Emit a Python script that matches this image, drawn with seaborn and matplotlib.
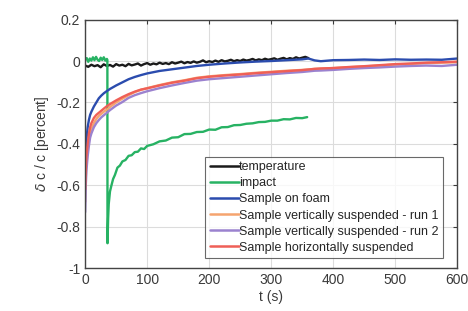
import numpy as np
import pandas as pd
import seaborn as sns
import matplotlib
matplotlib.use("Agg")
import matplotlib.pyplot as plt

# temperature reference (every 5 s)
temp_t = np.arange(0, 361, 5)
temp_v = [-0.022, -0.028, -0.018, -0.025, -0.020, -0.030, -0.016, -0.024, -0.019, -0.027,
          -0.015, -0.022, -0.018, -0.025, -0.014, -0.021, -0.017, -0.012, -0.022, -0.015,
          -0.010, -0.018, -0.012, -0.016, -0.008, -0.014, -0.010, -0.015, -0.006, -0.012,
          -0.008, -0.003, -0.011, -0.005, -0.009, -0.002, -0.008, -0.004, 0.003, -0.006,
          -0.001, -0.005, 0.002, -0.004, 0.004, -0.002, 0.001, 0.006, -0.001, 0.004,
          0.000, 0.007, 0.002, 0.005, 0.010, 0.003, 0.008, 0.004, 0.011, 0.006,
          0.009, 0.013, 0.006, 0.011, 0.015, 0.008, 0.014, 0.010, 0.018, 0.012,
          0.016, 0.020, 0.014]

impact_t = [0, 2.5, 5, 7.5, 10, 12.5, 15, 17.5, 20, 22.5, 25, 27.5, 30, 32.5, 35, 35.8,
            36, 37, 38, 40, 42, 45, 48, 52, 56, 60, 65, 70, 75, 80, 85, 90, 95, 100,
            110, 120, 130, 140, 150, 160, 170, 180, 190, 200, 210, 220, 230, 240, 250,
            260, 270, 280, 290, 300, 310, 320, 330, 340, 350, 358]
impact_v = [0.005, 0.014, -0.004, 0.012, 0.002, 0.018, 0.004, 0.020, 0.006, 0.000,
            0.016, 0.005, 0.018, 0.002, 0.010, 0.005,
            -0.88, -0.76, -0.69, -0.63, -0.605, -0.57, -0.55, -0.515, -0.505, -0.485,
            -0.478, -0.458, -0.455, -0.44, -0.438, -0.422, -0.425, -0.41,
            -0.402, -0.388, -0.384, -0.37, -0.368, -0.353, -0.352, -0.343, -0.342, -0.331,
            -0.332, -0.32, -0.319, -0.31, -0.309, -0.303, -0.301, -0.295, -0.294, -0.288,
            -0.288, -0.281, -0.282, -0.275, -0.276, -0.271]

curve_t = [0, 1, 2, 4, 6, 8, 10, 14, 18, 22, 26, 30, 35, 40, 50, 60, 70, 80, 90, 100,
           120, 140, 160, 180, 200, 225, 250, 275, 300, 325, 350, 360, 370, 380, 400,
           425, 450, 475, 500, 525, 550, 575, 600]
foam_v = [-0.50, -0.43, -0.38, -0.32, -0.285, -0.26, -0.245, -0.22, -0.20, -0.18,
          -0.167, -0.156, -0.145, -0.135, -0.118, -0.103, -0.088, -0.077, -0.068, -0.060,
          -0.048, -0.040, -0.032, -0.024, -0.018, -0.012, -0.007, -0.003, 0.000, 0.004,
          0.008, 0.012, 0.003, -0.001, 0.004, 0.005, 0.007, 0.005, 0.008, 0.006,
          0.007, 0.006, 0.012]
run1_v = [-0.68, -0.56, -0.50, -0.43, -0.38, -0.35, -0.33, -0.30, -0.28, -0.265,
          -0.255, -0.245, -0.235, -0.222, -0.200, -0.182, -0.165, -0.150, -0.139, -0.131,
          -0.116, -0.103, -0.093, -0.081, -0.074, -0.068, -0.063, -0.057, -0.052, -0.047,
          -0.043, -0.041, -0.038, -0.037, -0.034, -0.030, -0.026, -0.022, -0.017, -0.014,
          -0.010, -0.008, -0.006]
run2_v = [-0.73, -0.60, -0.53, -0.46, -0.41, -0.37, -0.35, -0.32, -0.30, -0.285,
          -0.272, -0.262, -0.250, -0.237, -0.215, -0.198, -0.178, -0.165, -0.155, -0.146,
          -0.131, -0.118, -0.106, -0.095, -0.088, -0.082, -0.076, -0.070, -0.064, -0.058,
          -0.053, -0.050, -0.047, -0.046, -0.043, -0.038, -0.034, -0.031, -0.027, -0.024,
          -0.022, -0.024, -0.018]
horiz_v = [-0.62, -0.52, -0.46, -0.40, -0.35, -0.32, -0.30, -0.275, -0.26, -0.25,
           -0.24, -0.23, -0.218, -0.208, -0.190, -0.174, -0.160, -0.148, -0.138, -0.132,
           -0.118, -0.105, -0.095, -0.083, -0.076, -0.070, -0.065, -0.059, -0.054, -0.049,
           -0.044, -0.041, -0.038, -0.036, -0.034, -0.029, -0.025, -0.020, -0.015, -0.012,
           -0.008, -0.006, -0.003]

labels = ["temperature", "impact", "Sample on foam",
          "Sample vertically suspended - run 1",
          "Sample vertically suspended - run 2",
          "Sample horizontally suspended"]
colors = ["#1a1a1a", "#27b263", "#2b4cae", "#f5a46f", "#9b82cf", "#ef5f57"]

sns.set_style("white")
plt.rcParams['font.family'] = ['Liberation Sans', 'DejaVu Sans']

fig = plt.figure(figsize=(4.68, 3.11), dpi=100)
ax = fig.add_axes([0.182, 0.138, 0.795, 0.799])

series = [(temp_t, temp_v), (impact_t, impact_v), (curve_t, foam_v),
          (curve_t, run1_v), (curve_t, run2_v), (curve_t, horiz_v)]
for (t, v), lab, col in zip(series, labels, colors):
    sns.lineplot(x=t, y=v, ax=ax, color=col, label=lab, linewidth=1.7,
                 estimator=None, sort=False)

ax.set_xlim(0, 600)
ax.set_ylim(-1, 0.2)
ax.set_xticks([0, 100, 200, 300, 400, 500, 600])
ax.set_yticks([-1, -0.8, -0.6, -0.4, -0.2, 0, 0.2])
ax.set_yticklabels(["-1", "-0.8", "-0.6", "-0.4", "-0.2", "0", "0.2"])
ax.grid(True, color="#dcdcdc", linewidth=0.8)
ax.tick_params(direction="in", top=True, right=True, length=3, width=0.8,
               colors="#3a3a3a", labelsize=10, labelcolor="#3a3a3a")
for s in ax.spines.values():
    s.set_color("#444444")
    s.set_linewidth(1.0)
ax.set_xlabel("t (s)", fontsize=10, color="#3a3a3a", labelpad=2)
ax.set_ylabel(r"$\delta$ c / c [percent]", fontsize=10, color="#3a3a3a", labelpad=4)

leg = ax.legend(loc="lower right", bbox_to_anchor=(0.962, 0.04), fontsize=9,
                frameon=True, fancybox=False, handlelength=2.3, handletextpad=0.05,
                borderpad=0.35, labelspacing=0.33, borderaxespad=0)
leg.get_frame().set_edgecolor("#444444")
leg.get_frame().set_linewidth(0.8)
for line in leg.get_lines():
    line.set_linewidth(1.8)

fig.savefig("out.png", dpi=100)
